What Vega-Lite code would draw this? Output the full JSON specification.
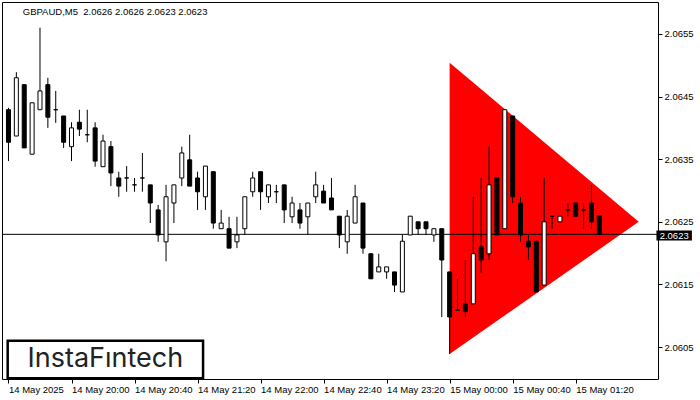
{
  "$schema": "https://vega.github.io/schema/vega-lite/v6.json",
  "width": 656,
  "height": 377,
  "autosize": "none",
  "padding": {"left": 2, "top": 2, "right": 42, "bottom": 21},
  "background": "white",
  "config": {
    "view": {"stroke": "black", "strokeWidth": 1, "fill": "white"},
    "axis": {"labelFont": "Liberation Sans", "labelFontSize": 9.5, "labelColor": "black", "tickColor": "black", "domain": false, "grid": false}
  },
  "datasets": {
    "candles": [
      {"t":"2025-05-14T19:20:00Z","o":2.06429,"h":2.06432,"l":2.06347,"c":2.06377},
      {"t":"2025-05-14T19:25:00Z","o":2.06387,"h":2.06489,"l":2.06387,"c":2.06480},
      {"t":"2025-05-14T19:30:00Z","o":2.06469,"h":2.06469,"l":2.06368,"c":2.06368},
      {"t":"2025-05-14T19:35:00Z","o":2.06358,"h":2.06440,"l":2.06358,"c":2.06440},
      {"t":"2025-05-14T19:40:00Z","o":2.06429,"h":2.06560,"l":2.06429,"c":2.06459},
      {"t":"2025-05-14T19:45:00Z","o":2.06469,"h":2.06480,"l":2.06400,"c":2.06417},
      {"t":"2025-05-14T19:50:00Z","o":2.06429,"h":2.06459,"l":2.06408,"c":2.06429},
      {"t":"2025-05-14T19:55:00Z","o":2.06419,"h":2.06419,"l":2.06368,"c":2.06377},
      {"t":"2025-05-14T20:00:00Z","o":2.06370,"h":2.06409,"l":2.06347,"c":2.06400},
      {"t":"2025-05-14T20:05:00Z","o":2.06409,"h":2.06429,"l":2.06387,"c":2.06398},
      {"t":"2025-05-14T20:10:00Z","o":2.06389,"h":2.06429,"l":2.06377,"c":2.06389},
      {"t":"2025-05-14T20:15:00Z","o":2.06400,"h":2.06409,"l":2.06338,"c":2.06347},
      {"t":"2025-05-14T20:20:00Z","o":2.06338,"h":2.06389,"l":2.06338,"c":2.06379},
      {"t":"2025-05-14T20:25:00Z","o":2.06370,"h":2.06379,"l":2.06307,"c":2.06328},
      {"t":"2025-05-14T20:30:00Z","o":2.06320,"h":2.06330,"l":2.06290,"c":2.06307},
      {"t":"2025-05-14T20:35:00Z","o":2.06320,"h":2.06339,"l":2.06298,"c":2.06320},
      {"t":"2025-05-14T20:40:00Z","o":2.06309,"h":2.06320,"l":2.06298,"c":2.06309},
      {"t":"2025-05-14T20:45:00Z","o":2.06320,"h":2.06360,"l":2.06298,"c":2.06320},
      {"t":"2025-05-14T20:50:00Z","o":2.06309,"h":2.06309,"l":2.06248,"c":2.06280},
      {"t":"2025-05-14T20:55:00Z","o":2.06269,"h":2.06277,"l":2.06218,"c":2.06229},
      {"t":"2025-05-14T21:00:00Z","o":2.06218,"h":2.06309,"l":2.06187,"c":2.06290},
      {"t":"2025-05-14T21:05:00Z","o":2.06280,"h":2.06309,"l":2.06248,"c":2.06309},
      {"t":"2025-05-14T21:10:00Z","o":2.06320,"h":2.06370,"l":2.06307,"c":2.06360},
      {"t":"2025-05-14T21:15:00Z","o":2.06349,"h":2.06389,"l":2.06307,"c":2.06307},
      {"t":"2025-05-14T21:20:00Z","o":2.06320,"h":2.06330,"l":2.06269,"c":2.06298},
      {"t":"2025-05-14T21:25:00Z","o":2.06290,"h":2.06339,"l":2.06269,"c":2.06339},
      {"t":"2025-05-14T21:30:00Z","o":2.06330,"h":2.06330,"l":2.06239,"c":2.06248},
      {"t":"2025-05-14T21:35:00Z","o":2.06239,"h":2.06269,"l":2.06239,"c":2.06248},
      {"t":"2025-05-14T21:40:00Z","o":2.06239,"h":2.06258,"l":2.06208,"c":2.06208},
      {"t":"2025-05-14T21:45:00Z","o":2.06218,"h":2.06258,"l":2.06208,"c":2.06229},
      {"t":"2025-05-14T21:50:00Z","o":2.06239,"h":2.06290,"l":2.06229,"c":2.06290},
      {"t":"2025-05-14T21:55:00Z","o":2.06298,"h":2.06330,"l":2.06290,"c":2.06320},
      {"t":"2025-05-14T22:00:00Z","o":2.06330,"h":2.06330,"l":2.06269,"c":2.06298},
      {"t":"2025-05-14T22:05:00Z","o":2.06290,"h":2.06309,"l":2.06280,"c":2.06309},
      {"t":"2025-05-14T22:10:00Z","o":2.06298,"h":2.06309,"l":2.06280,"c":2.06298},
      {"t":"2025-05-14T22:15:00Z","o":2.06309,"h":2.06309,"l":2.06248,"c":2.06269},
      {"t":"2025-05-14T22:20:00Z","o":2.06258,"h":2.06290,"l":2.06248,"c":2.06280},
      {"t":"2025-05-14T22:25:00Z","o":2.06269,"h":2.06280,"l":2.06239,"c":2.06248},
      {"t":"2025-05-14T22:30:00Z","o":2.06258,"h":2.06280,"l":2.06229,"c":2.06280},
      {"t":"2025-05-14T22:35:00Z","o":2.06290,"h":2.06330,"l":2.06280,"c":2.06309},
      {"t":"2025-05-14T22:40:00Z","o":2.06299,"h":2.06309,"l":2.06280,"c":2.06280},
      {"t":"2025-05-14T22:45:00Z","o":2.06288,"h":2.06320,"l":2.06269,"c":2.06269},
      {"t":"2025-05-14T22:50:00Z","o":2.06259,"h":2.06259,"l":2.06208,"c":2.06229},
      {"t":"2025-05-14T22:55:00Z","o":2.06218,"h":2.06269,"l":2.06199,"c":2.06259},
      {"t":"2025-05-14T23:00:00Z","o":2.06248,"h":2.06309,"l":2.06248,"c":2.06290},
      {"t":"2025-05-14T23:05:00Z","o":2.06280,"h":2.06280,"l":2.06199,"c":2.06208},
      {"t":"2025-05-14T23:10:00Z","o":2.06199,"h":2.06199,"l":2.06159,"c":2.06159},
      {"t":"2025-05-14T23:15:00Z","o":2.06170,"h":2.06199,"l":2.06170,"c":2.06178},
      {"t":"2025-05-14T23:20:00Z","o":2.06170,"h":2.06178,"l":2.06159,"c":2.06178},
      {"t":"2025-05-14T23:25:00Z","o":2.06170,"h":2.06170,"l":2.06138,"c":2.06149},
      {"t":"2025-05-14T23:30:00Z","o":2.06138,"h":2.06229,"l":2.06138,"c":2.06219},
      {"t":"2025-05-14T23:35:00Z","o":2.06229,"h":2.06259,"l":2.06229,"c":2.06259},
      {"t":"2025-05-14T23:40:00Z","o":2.06250,"h":2.06250,"l":2.06229,"c":2.06239},
      {"t":"2025-05-14T23:45:00Z","o":2.06250,"h":2.06250,"l":2.06229,"c":2.06239},
      {"t":"2025-05-14T23:50:00Z","o":2.06229,"h":2.06239,"l":2.06218,"c":2.06239},
      {"t":"2025-05-14T23:55:00Z","o":2.06239,"h":2.06239,"l":2.06098,"c":2.06189},
      {"t":"2025-05-15T00:00:00Z","o":2.06170,"h":2.06170,"l":2.06039,"c":2.06098},
      {"t":"2025-05-15T00:05:00Z","o":2.06109,"h":2.06159,"l":2.06109,"c":2.06109},
      {"t":"2025-05-15T00:10:00Z","o":2.06119,"h":2.06189,"l":2.06098,"c":2.06107},
      {"t":"2025-05-15T00:15:00Z","o":2.06119,"h":2.06290,"l":2.06119,"c":2.06199},
      {"t":"2025-05-15T00:20:00Z","o":2.06210,"h":2.06320,"l":2.06168,"c":2.06189},
      {"t":"2025-05-15T00:25:00Z","o":2.06199,"h":2.06370,"l":2.06189,"c":2.06309},
      {"t":"2025-05-15T00:30:00Z","o":2.06320,"h":2.06320,"l":2.06229,"c":2.06229},
      {"t":"2025-05-15T00:35:00Z","o":2.06239,"h":2.06429,"l":2.06239,"c":2.06429},
      {"t":"2025-05-15T00:40:00Z","o":2.06419,"h":2.06419,"l":2.06280,"c":2.06290},
      {"t":"2025-05-15T00:45:00Z","o":2.06280,"h":2.06290,"l":2.06218,"c":2.06229},
      {"t":"2025-05-15T00:50:00Z","o":2.06219,"h":2.06229,"l":2.06189,"c":2.06210},
      {"t":"2025-05-15T00:55:00Z","o":2.06219,"h":2.06219,"l":2.06138,"c":2.06138},
      {"t":"2025-05-15T01:00:00Z","o":2.06149,"h":2.06320,"l":2.06149,"c":2.06250},
      {"t":"2025-05-15T01:05:00Z","o":2.06259,"h":2.06259,"l":2.06239,"c":2.06259},
      {"t":"2025-05-15T01:10:00Z","o":2.06250,"h":2.06259,"l":2.06250,"c":2.06259},
      {"t":"2025-05-15T01:15:00Z","o":2.06269,"h":2.06280,"l":2.06259,"c":2.06269},
      {"t":"2025-05-15T01:20:00Z","o":2.06280,"h":2.06280,"l":2.06259,"c":2.06259},
      {"t":"2025-05-15T01:25:00Z","o":2.06269,"h":2.06280,"l":2.06239,"c":2.06269},
      {"t":"2025-05-15T01:30:00Z","o":2.06280,"h":2.06309,"l":2.06239,"c":2.06250},
      {"t":"2025-05-15T01:35:00Z","o":2.06260,"h":2.06260,"l":2.06230,"c":2.06230}
    ],
    "tri": [
      {"t":"2025-05-15T00:00:00Z","top":2.06504,"bot":2.06039},
      {"t":"2025-05-15T02:00:00Z","top":2.06250,"bot":2.06250}
    ]
  },
  "layer": [
    {
      "data": {"name": "tri"},
      "mark": {"type": "area", "color": "#FF0000", "opacity": 1},
      "encoding": {
        "x": {
          "field": "t", "type": "temporal", "title": null,
          "scale": {"type": "utc", "domain": [
            {"year": 2025, "month": 5, "date": 14, "hours": 19, "minutes": 19, "seconds": 3, "milliseconds": 750, "utc": true},
            {"year": 2025, "month": 5, "date": 15, "hours": 2, "minutes": 9, "seconds": 3, "milliseconds": 750, "utc": true}
          ]},
          "axis": {
            "orient": "bottom",
            "values": [
              {"year": 2025, "month": 5, "date": 14, "hours": 19, "minutes": 20, "utc": true},
              {"year": 2025, "month": 5, "date": 14, "hours": 20, "minutes": 0, "utc": true},
              {"year": 2025, "month": 5, "date": 14, "hours": 20, "minutes": 40, "utc": true},
              {"year": 2025, "month": 5, "date": 14, "hours": 21, "minutes": 20, "utc": true},
              {"year": 2025, "month": 5, "date": 14, "hours": 22, "minutes": 0, "utc": true},
              {"year": 2025, "month": 5, "date": 14, "hours": 22, "minutes": 40, "utc": true},
              {"year": 2025, "month": 5, "date": 14, "hours": 23, "minutes": 20, "utc": true},
              {"year": 2025, "month": 5, "date": 15, "hours": 0, "minutes": 0, "utc": true},
              {"year": 2025, "month": 5, "date": 15, "hours": 0, "minutes": 40, "utc": true},
              {"year": 2025, "month": 5, "date": 15, "hours": 1, "minutes": 20, "utc": true}
            ],
            "labelExpr": "utcFormat(datum.value, '%H:%M') == '19:20' ? '14 May 2025' : utcFormat(datum.value, '%d %b %H:%M')",
            "labelAlign": "left",
            "labelFlush": false,
            "labelOverlap": false,
            "tickSize": 4,
            "labelPadding": 1
          }
        },
        "y": {
          "field": "top", "type": "quantitative", "title": null,
          "scale": {"domain": [2.05999, 2.06601], "nice": false, "zero": false},
          "axis": {
            "orient": "right",
            "values": [2.0605, 2.0615, 2.0625, 2.0635, 2.0645, 2.0655],
            "format": ".4f",
            "tickSize": 4,
            "labelPadding": 2
          }
        },
        "y2": {"field": "bot"}
      }
    },
    {
      "data": {"values": [{}]},
      "mark": {"type": "rule", "color": "black", "strokeWidth": 1},
      "encoding": {"y": {"datum": 2.0623, "type": "quantitative", "title": null}}
    },
    {
      "data": {"name": "candles"},
      "mark": {"type": "rule", "color": "black", "strokeWidth": 1},
      "encoding": {
        "x": {"field": "t", "type": "temporal", "title": null},
        "y": {"field": "l", "type": "quantitative", "title": null},
        "y2": {"field": "h"}
      }
    },
    {
      "data": {"name": "candles"},
      "mark": {"type": "bar", "width": 4, "stroke": "black", "strokeWidth": 1},
      "encoding": {
        "x": {"field": "t", "type": "temporal", "title": null},
        "y": {"field": "o", "type": "quantitative", "title": null},
        "y2": {"field": "c"},
        "fill": {"condition": {"test": "datum.c < datum.o", "value": "black"}, "value": "white"}
      }
    },
    {
      "data": {"values": [{}]},
      "mark": {"type": "text", "text": "GBPAUD,M5\u00a0\u00a02.0626 2.0626 2.0623 2.0623", "font": "Liberation Sans", "fontSize": 9.5, "color": "black", "align": "left", "baseline": "alphabetic"},
      "encoding": {
        "x": {"datum": {"year": 2025, "month": 5, "date": 14, "hours": 19, "minutes": 29, "seconds": 3, "utc": true}, "type": "temporal", "title": null},
        "y": {"datum": 2.06581, "type": "quantitative", "title": null}
      }
    },
    {
      "data": {"values": [{}]},
      "mark": {"type": "rect", "fill": "white", "stroke": "black", "strokeWidth": 2.5},
      "encoding": {
        "x": {"datum": {"year": 2025, "month": 5, "date": 14, "hours": 19, "minutes": 19, "seconds": 30, "utc": true}, "type": "temporal", "title": null},
        "x2": {"datum": {"year": 2025, "month": 5, "date": 14, "hours": 21, "minutes": 23, "seconds": 30, "utc": true}},
        "y": {"datum": 2.06060, "type": "quantitative", "title": null},
        "y2": {"datum": 2.06000}
      }
    },
    {
      "data": {"values": [{}]},
      "mark": {"type": "text", "text": "InstaF\u0131ntech", "font": "Inter", "fontSize": 27, "fontWeight": 400, "color": "#222222", "align": "center", "baseline": "middle"},
      "encoding": {
        "x": {"datum": {"year": 2025, "month": 5, "date": 14, "hours": 20, "minutes": 21, "seconds": 30, "utc": true}, "type": "temporal", "title": null},
        "y": {"datum": 2.06031, "type": "quantitative", "title": null}
      }
    },
    {
      "data": {"values": [{}]},
      "mark": {"type": "rect", "fill": "black"},
      "encoding": {
        "x": {"datum": {"year": 2025, "month": 5, "date": 15, "hours": 2, "minutes": 11, "seconds": 15, "utc": true}, "type": "temporal", "title": null},
        "x2": {"datum": {"year": 2025, "month": 5, "date": 15, "hours": 2, "minutes": 33, "seconds": 45, "utc": true}},
        "y": {"datum": 2.06236, "type": "quantitative", "title": null},
        "y2": {"datum": 2.06220}
      }
    },
    {
      "data": {"values": [{}]},
      "mark": {"type": "text", "text": "2.0623", "font": "Liberation Sans", "fontSize": 9.5, "color": "white", "align": "center", "baseline": "middle"},
      "encoding": {
        "x": {"datum": {"year": 2025, "month": 5, "date": 15, "hours": 2, "minutes": 22, "seconds": 30, "utc": true}, "type": "temporal", "title": null},
        "y": {"datum": 2.06228, "type": "quantitative", "title": null}
      }
    }
  ]
}
